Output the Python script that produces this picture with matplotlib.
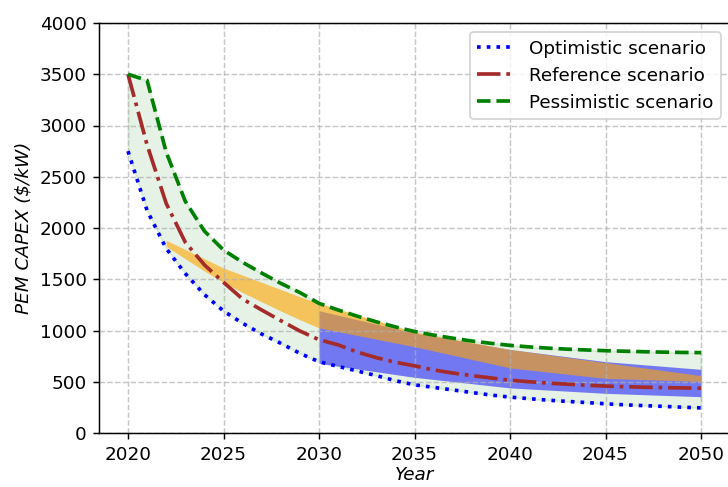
"""
PEM electrolyser CAPEX projections under three scenarios, with ranges.
"""

import numpy as np
import matplotlib.pyplot as plt

# Scenario curves, $/kW (read year by year)
years = np.arange(2020, 2051)

optimistic = [2750, 2170, 1800, 1555, 1350, 1190, 1070, 965, 875, 777,
              695, 650, 605, 560, 510, 470, 445, 420, 395, 370,
              350, 335, 320, 308, 297, 285, 275, 267, 260, 252, 245]

reference = [3500, 2810, 2240, 1860, 1640, 1470, 1307, 1200, 1096, 995,
             910, 860, 790, 735, 690, 655, 615, 585, 560, 537,
             515, 500, 487, 476, 466, 458, 452, 447, 443, 440, 437]

pessimistic = [3500, 3440, 2740, 2260, 1970, 1785, 1665, 1560, 1460, 1370,
               1265, 1200, 1140, 1085, 1035, 990, 955, 925, 897, 875,
               855, 840, 828, 818, 810, 803, 798, 793, 789, 786, 784]

# Orange range (2022-2050)
orange_years = [2022, 2023, 2024, 2025, 2026, 2027, 2028, 2029, 2030,
                2035, 2040, 2045, 2050]
orange_low = [1820, 1700, 1580, 1470, 1370, 1280, 1190, 1105, 1025,
              842, 635, 533, 503]
orange_high = [1880, 1790, 1700, 1610, 1540, 1470, 1400, 1330, 1265,
               985, 815, 686, 560]

# Blue range (2030-2050)
blue_years = [2030, 2035, 2040, 2045, 2050]
blue_low = [680, 543, 440, 387, 354]
blue_high = [1193, 975, 815, 696, 621]

DPI = 132
fig = plt.figure(figsize=(728 / DPI, 487 / DPI), dpi=DPI)
ax = fig.add_axes([99.35 / 728, 54 / 487, 630.35 / 728, 410 / 487])

ax.fill_between(years, optimistic, pessimistic, color='green', alpha=0.1)
ax.fill_between(blue_years, blue_low, blue_high, color='blue', alpha=0.5, linewidth=0)
ax.fill_between(orange_years, orange_low, orange_high, color='orange', alpha=0.6, linewidth=0)

ax.plot(years, optimistic, color='blue', linestyle=':', linewidth=2, label='Optimistic scenario')
ax.plot(years, reference, color='brown', linestyle='-.', linewidth=2, label='Reference scenario')
ax.plot(years, pessimistic, color='green', linestyle='--', linewidth=2, label='Pessimistic scenario')

ax.set_xlim(2018.5, 2051.5)
ax.set_ylim(0, 4000)
ax.set_xticks(np.arange(2020, 2051, 5))
ax.set_yticks(np.arange(0, 4001, 500))
ax.set_xlabel('Year', fontstyle='italic', labelpad=1)
ax.set_ylabel(r'PEM CAPEX (\$/kW)', fontstyle='italic')
ax.grid(True, linestyle='--', alpha=0.7)
ax.legend(loc='upper right')

fig.savefig('out.png', dpi=DPI)
plt.close(fig)
